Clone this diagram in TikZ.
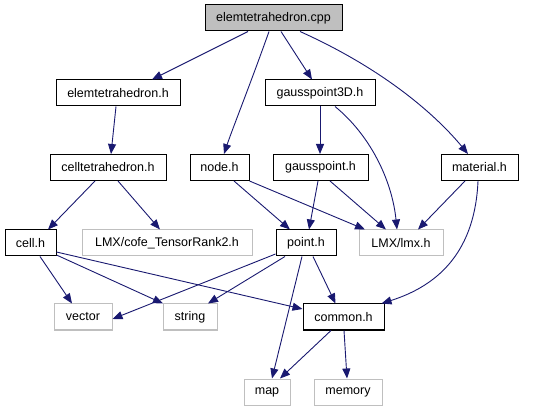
\documentclass[tikz,border=0pt]{standalone}
\usepackage{fontspec}
\setmainfont{Liberation Sans}
\usetikzlibrary{arrows.meta}
\definecolor{edgec}{HTML}{191970}
\definecolor{grayb}{HTML}{BFBFBF}
\begin{document}
\begin{tikzpicture}[x=1pt,y=-1pt,
  box/.style={draw=black, line width=1pt, minimum height=26pt, inner sep=0pt,
    font=\fontsize{12.5}{14}\selectfont, text=black},
  sysbox/.style={box, draw=grayb},
  dep/.style={draw=edgec, line width=0.9pt, -{Triangle[length=10pt,width=8pt]}}]
\useasboundingbox (0,0) rectangle (535,411);
% nodes
\node[box, fill=grayb, minimum width=137pt] (cpp) at (273.5,18) {elemtetrahedron.cpp};
\node[box, minimum width=124pt] (eh) at (118,93) {elemtetrahedron.h};
\node[box, minimum width=110pt] (g3d) at (320,93) {gausspoint3D.h};
\node[box, minimum width=116pt] (ct) at (108,167.5) {celltetrahedron.h};
\node[box, minimum width=59pt] (nd) at (219.5,167.5) {node.h};
\node[box, minimum width=95pt] (gp) at (320.5,167.5) {gausspoint.h};
\node[box, minimum width=77pt] (mat) at (479.5,167.5) {material.h};
\node[box, minimum width=51pt] (cell) at (30.5,243) {cell.h};
\node[sysbox, minimum width=170pt] (cofe) at (167,243) {LMX/cofe\_TensorRank2.h};
\node[box, minimum width=60pt] (pt) at (306,243) {point.h};
\node[sysbox, minimum width=84pt] (lmx) at (401,243) {LMX/lmx.h};
\node[sysbox, minimum width=58pt] (vec) at (83,317) {vector};
\node[sysbox, minimum width=54pt] (str) at (190,317) {string};
\node[box, minimum width=81pt] (com) at (343.5,317) {common.h};
\node[sysbox, minimum width=46pt] (map) at (267,392) {map};
\node[sysbox, minimum width=68pt] (mem) at (348,392) {memory};
% edges
\draw[dep] ([xshift=-25.5pt]cpp.south) -- ([xshift=34pt]eh.north);
\draw[dep] ([xshift=-4.5pt]cpp.south) .. controls (250,85) and (232,130) .. ([xshift=4.5pt]nd.north);
\draw[dep] ([xshift=7.5pt]cpp.south) -- ([xshift=-8pt]g3d.north);
\draw[dep] ([xshift=26.5pt]cpp.south) .. controls (390,72) and (440,120) .. ([xshift=-11.5pt]mat.north);
\draw[dep] ([xshift=-2pt]eh.south) -- ([xshift=3pt]ct.north);
\draw[dep] (g3d.south) -- ([xshift=-0.5pt]gp.north);
\draw[dep] ([xshift=15pt]g3d.south) .. controls (370,135) and (392,180) .. ([xshift=-4pt]lmx.north);
\draw[dep] ([xshift=14.5pt]nd.south) -- ([xshift=-16pt]pt.north);
\draw[dep] ([xshift=30pt]nd.south) -- ([xshift=-36pt]lmx.north);
\draw[dep] ([xshift=-2.5pt]gp.south) -- ([xshift=3pt]pt.north);
\draw[dep] ([xshift=9.5pt]gp.south) -- ([xshift=-15pt]lmx.north);
\draw[dep] ([xshift=-14.5pt]mat.south) -- ([xshift=17pt]lmx.north);
\draw[dep] ([xshift=-1.5pt]mat.south) .. controls (475,250) and (440,285) .. ([xshift=38pt]com.north);
\draw[dep] ([xshift=-13pt]ct.south) -- ([xshift=17.5pt]cell.north);
\draw[dep] ([xshift=10pt]ct.south) -- ([xshift=-7pt]cofe.north);
\draw[dep] ([xshift=9.5pt]cell.south) -- ([xshift=-11pt]vec.north);
\draw[dep] ([yshift=-12pt]cell.east) -- ([xshift=-27pt]str.north);
\draw[dep] ([yshift=-9pt]cell.east) -- ([yshift=8pt]com.west);
\draw[dep] ([yshift=-11pt]pt.west) -- ([yshift=-2pt]vec.east);
\draw[dep] ([xshift=-21pt]pt.south) -- ([xshift=18pt]str.north);
\draw[dep] ([xshift=-4pt]pt.south) -- ([xshift=5pt]map.north);
\draw[dep] ([xshift=7pt]pt.south) -- ([xshift=-8pt]com.north);
\draw[dep] ([xshift=-12.5pt]com.south) -- ([xshift=13pt]map.north);
\draw[dep] ([xshift=0.5pt]com.south) -- ([xshift=-1pt]mem.north);
\end{tikzpicture}
\end{document}
